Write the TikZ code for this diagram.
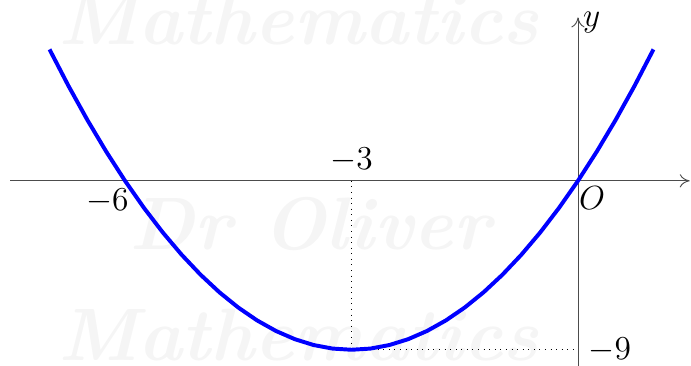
\documentclass[tikz,border=0pt]{standalone}
\usepackage{tikz}
\usetikzlibrary{arrows.meta,positioning}

\begin{document}
\begin{tikzpicture}[
    x=1.142cm, y=0.284cm,
    axis/.style={draw=black!70,-{To[length=1.5mm,width=2mm]}},
    guide/.style={dotted,thin},
    curve/.style={blue,line width=1.7pt},
    ticklabel/.style={font=\Large},
    wmark/.style={black!4,font=\fontsize{32}{36}\selectfont\bfseries\itshape}
]
\useasboundingbox (-7.656,-9.84) rectangle (1.497,9.63);
% watermark
\node[wmark] (wm1) at (-3.7,8.6) {Mathematics};
\node[wmark] (wm2) at (-3.55,-2.3) {Dr Oliver};
\node[wmark] (wm3) at (-3.7,-8.2) {Mathematics};
% axes
\coordinate (o) at (0,0);
\coordinate (xl) at (-7.52,0);
\coordinate (xr) at (1.48,0);
\coordinate (yb) at (0,-10.2);
\coordinate (yt) at (0,8.7);
\draw[axis] (xl) -- (xr) node[right,ticklabel] (xlab) {$x$};
\draw[axis] (yb) -- (yt) node[right,ticklabel,inner sep=2pt,yshift=-2pt] (ylab) {$y$};
% vertex guides
\coordinate (vx) at (-3,0);
\coordinate (vtx) at (-3,-9);
\coordinate (vy) at (0,-9);
\draw[guide] (vx) -- (vtx) -- (vy);
% labels
\node[ticklabel,below left=0pt and -5pt] (lm6) at (-6,0) {$-6$};
\node[ticklabel,above=0pt of vx] (lm3) {$-3$};
\node[ticklabel,below right=-1pt and -3pt of o] (lo) {$O$};
\node[ticklabel,right=1pt of vy] (lm9) {$-9$};
% the curve
\draw[curve] plot[domain=-7:1,samples=33] (\x,{\x*\x+6*\x});
\end{tikzpicture}
\end{document}
